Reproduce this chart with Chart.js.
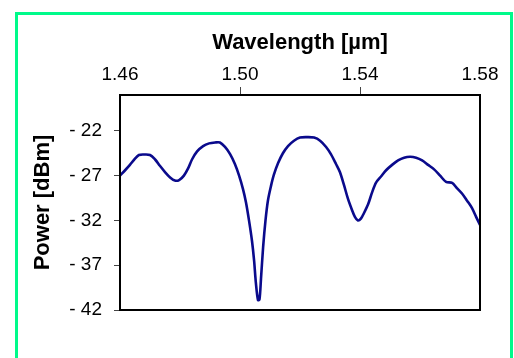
<!DOCTYPE html>
<html>
<head>
<meta charset="utf-8">
<script src="https://cdn.jsdelivr.net/npm/chart.js@4/dist/chart.umd.min.js"></script>
<style>
    html, body { margin: 0; padding: 0; background: #fff; overflow: hidden; }
    #wrap { position: relative; width: 514px; height: 358px; }
    #frame { position: absolute; left: 15px; top: 12px; width: 498px; height: 400px; box-sizing: border-box; border: 3px solid #00fa8a; }
    #chart { position: absolute; left: 0; top: 0; }
</style>
</head>
<body>
<div id="wrap">
    <div id="frame"></div>
    <canvas id="chart" width="514" height="358"></canvas>
</div>
<script>
'use strict';

// wavelength [um]
var wavelength = [
    1.4600, 1.4617, 1.4633, 1.4650, 1.4663, 1.4680, 1.4700, 1.4717, 1.4733, 1.4750,
    1.4767, 1.4783, 1.4797, 1.4813, 1.4827, 1.4840, 1.4857, 1.4877, 1.4897, 1.4917,
    1.4933, 1.4950, 1.4967, 1.4983, 1.4997, 1.5010, 1.5020, 1.5030, 1.5040, 1.5047,
    1.5053, 1.5060, 1.5065, 1.5070, 1.5077, 1.5085, 1.5093, 1.5103, 1.5113, 1.5127,
    1.5143, 1.5160, 1.5180, 1.5200, 1.5223, 1.5247, 1.5267, 1.5287, 1.5303, 1.5320,
    1.5333, 1.5347, 1.5360, 1.5373, 1.5383, 1.5393, 1.5403, 1.5413, 1.5427, 1.5440,
    1.5453, 1.5470, 1.5487, 1.5507, 1.5527, 1.5547, 1.5567, 1.5587, 1.5607, 1.5627,
    1.5647, 1.5667, 1.5687, 1.5707, 1.5723, 1.5740, 1.5757, 1.5773, 1.5787, 1.5800
];
// power [dBm]
var power = [
    -27.0, -26.4, -25.8, -25.1, -24.7, -24.65, -24.7, -25.2, -25.9, -26.6,
    -27.2, -27.55, -27.5, -27.0, -26.2, -25.2, -24.3, -23.7, -23.4, -23.3,
    -23.3, -23.8, -24.6, -25.7, -27.0, -28.5, -30.0, -32.0, -34.3, -36.5,
    -39.0, -40.9, -40.8, -38.5, -35.0, -32.0, -29.8, -28.2, -26.9, -25.6,
    -24.5, -23.7, -23.1, -22.75, -22.7, -22.75, -23.1, -23.8, -24.6, -25.7,
    -26.6, -28.1, -29.6, -30.8, -31.6, -32.0, -31.8, -31.2, -30.2, -28.9,
    -27.8, -27.1, -26.4, -25.8, -25.3, -25.0, -24.9, -25.0, -25.3, -25.8,
    -26.3, -27.0, -27.7, -27.8, -28.4, -29.0, -29.8, -30.6, -31.6, -32.5
];
var xTicks = [1.46, 1.50, 1.54, 1.58];
var yTicks = [-42, -37, -32, -27, -22];

var FONT = '"Liberation Sans", Arial, sans-serif';

var points = wavelength.map(function(w, i) { return { x: w, y: power[i] }; });

// black frame round the plot area
var plotFrame = {
    id: 'plotFrame',
    afterDatasetsDraw: function(chart) {
        var a = chart.chartArea, ctx = chart.ctx;
        ctx.save();
        ctx.strokeStyle = '#000';
        ctx.lineWidth = 2;
        ctx.strokeRect(a.left, a.top, a.right - a.left, a.bottom - a.top);
        ctx.restore();
    }
};

new Chart(document.getElementById('chart').getContext('2d'), {
    type: 'line',
    data: {
        datasets: [{
            data: points,
            borderColor: '#0a0a8c',
            borderWidth: 2.6,
            pointRadius: 0,
            tension: 0.3,
            fill: false
        }]
    },
    options: {
        responsive: false,
        animation: false,
        events: [],
        layout: { padding: { left: 20, right: 34, top: 30, bottom: 48 } },
        plugins: { legend: { display: false }, tooltip: { enabled: false } },
        scales: {
            x: {
                type: 'linear',
                position: 'top',
                min: 1.46, max: 1.58,
                afterBuildTicks: function(s) { s.ticks = xTicks.map(function(v) { return { value: v }; }); },
                afterFit: function(s) { s.height = 65; },
                ticks: {
                    padding: 1,
                    color: '#000',
                    font: { family: FONT, size: 19 },
                    callback: function(v) { return v.toFixed(2); }
                },
                grid: {
                    drawOnChartArea: false, drawTicks: true, tickLength: 8, lineWidth: 1,
                    // no tick marks at the two ends, they sit on the frame
                    color: function(c) { return (c.index === 0 || c.index === xTicks.length - 1) ? 'rgba(0,0,0,0)' : '#444'; }
                },
                border: { display: false },
                title: {
                    display: true,
                    text: 'Wavelength [µm]',
                    color: '#000',
                    font: { family: FONT, size: 22, weight: 'bold' },
                    padding: { top: 0, bottom: 0 }
                }
            },
            y: {
                type: 'linear',
                min: -42, max: -18,
                afterBuildTicks: function(s) { s.ticks = yTicks.map(function(v) { return { value: v }; }); },
                afterFit: function(s) { s.width = 100; },
                ticks: {
                    padding: 12,
                    color: '#000',
                    font: { family: FONT, size: 19 },
                    callback: function(v) { return '- ' + Math.abs(v); }
                },
                grid: { drawOnChartArea: false, drawTicks: true, tickLength: 6, color: '#444', lineWidth: 1 },
                border: { display: false },
                title: {
                    display: true,
                    text: 'Power [dBm]',
                    color: '#000',
                    font: { family: FONT, size: 22, weight: 'bold' },
                    padding: { top: 10, bottom: 0 }
                }
            }
        }
    },
    plugins: [plotFrame]
});
</script>
</body>
</html>
